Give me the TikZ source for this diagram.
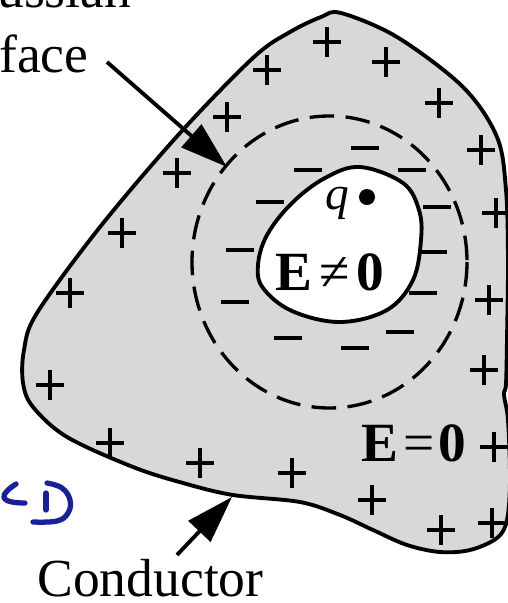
\documentclass[tikz,border=0pt]{standalone}
\usepackage{fontspec}
\setmainfont{Liberation Serif}
\usetikzlibrary{arrows.meta}
\definecolor{condgray}{RGB}{216,216,216}
\definecolor{penblue}{RGB}{28,32,150}
\tikzset{
  cond/.style={draw=black, line width=2.2pt, fill=condgray},
  cavity/.style={draw=black, line width=2.2pt, fill=white},
  gauss/.style={draw=black, line width=1.9pt, dash pattern=on 14pt off 6.5pt},
  arr/.style={line width=2.2pt, -{Triangle[length=27pt,width=17pt]}},
  lbl/.style={inner sep=0pt, font=\fontsize{30.5}{36}\selectfont},
  big/.style={inner sep=0pt, font=\fontsize{31.5}{38}\selectfont},
  pen/.style={draw=penblue, line width=3pt, line cap=round, line join=round},
  plussign/.pic={\draw[line width=1.9pt] (-14,0)--(14,0) (0,-15)--(0,15);},
  minussign/.pic={\draw[line width=2pt] (-14,0)--(14,0);}
}
\begin{document}
\begin{tikzpicture}[x=0.02cm,y=-0.02cm]
\useasboundingbox (0,0) rectangle (508,603);
\clip (0,0) rectangle (508,603);
% conductor
\draw[cond] plot[smooth cycle, tension=0.55] coordinates {(341,13) (397,37) (463,87) (497,137) (506,190) (508,260) (507,340) (506,384) (504,395) (508,420) (510,480) (507,520) (497,538) (470,550) (440,552) (407,545) (373,530) (340,515) (300,502) (233,495) (183,483) (133,467) (67,437) (33,407) (23,383) (24,350) (37,313) (100,227) (180,133) (254,57) (290,32) (321,17)};
% cavity
\draw[cavity] plot[smooth cycle, tension=0.6] coordinates {(360,167) (403,183) (419,210) (421,240) (413,280) (387,310) (340,322) (292,311) (263,288) (258,265) (267,235) (292,203) (325,178)};
% gaussian surface
\draw[gauss] (329.5,262) ellipse [x radius=137.5, y radius=146];
% positive charges
\foreach \p in {(227,117),(177,173),(122,233),(70,293),(267,70),(327,42),(386,62),(439,103),(481,150),(496,213),(489,300),(50,385),(110,443),(200,463),(484,370),(494,447),(292,473),(372,500),(441,530),(492,523)}
  \pic at \p {plussign};
% negative charges
\foreach \p in {(365,148),(308,170),(412,170),(270,202),(437,207),(240,250),(433,252),(235,302),(423,293),(288,338),(400,332),(355,348)}
  \pic at \p {minussign};
% charge q
\node[inner sep=0pt, font=\fontsize{27}{32}\selectfont\itshape] (q) at (337,203) {q};
\fill (367,197) circle [radius=8];
\node (qdot) at (367,197) {};
% field labels
\node[big] (Ein) at (330,272) {\textbf{E}\hspace{0.12em}≠\hspace{0.12em}\textbf{0}};
\node[big] (Eout) at (414,443) {\textbf{E}\hspace{0.08em}=\hspace{0.08em}\textbf{0}};
% captions
\node[lbl, anchor=base west] (gtop) at (-3,7) {ussian};
\node[lbl, anchor=base west] (gbot) at (-1,72) {face};
\node[lbl, anchor=base west] (ctext) at (37,596) {Conductor};
% arrows
\coordinate (gsA) at (107,62);
\coordinate (gsB) at (227,167);
\coordinate (cdA) at (177,555);
\coordinate (cdB) at (232,497);
\draw[arr] (gsA) -- (gsB);
\draw[arr] (cdA) -- (cdB);
% handwritten blue mark
\draw[pen] plot[smooth, tension=0.7] coordinates {(16,484) (7,491) (4,498) (12,502) (25,503)};
\draw[pen] (46,493) -- (46,510);
\draw[pen] plot[smooth, tension=0.7] coordinates {(47,483) (62,488) (70,500) (68,513) (57,521) (33,522)};
\end{tikzpicture}
\end{document}
